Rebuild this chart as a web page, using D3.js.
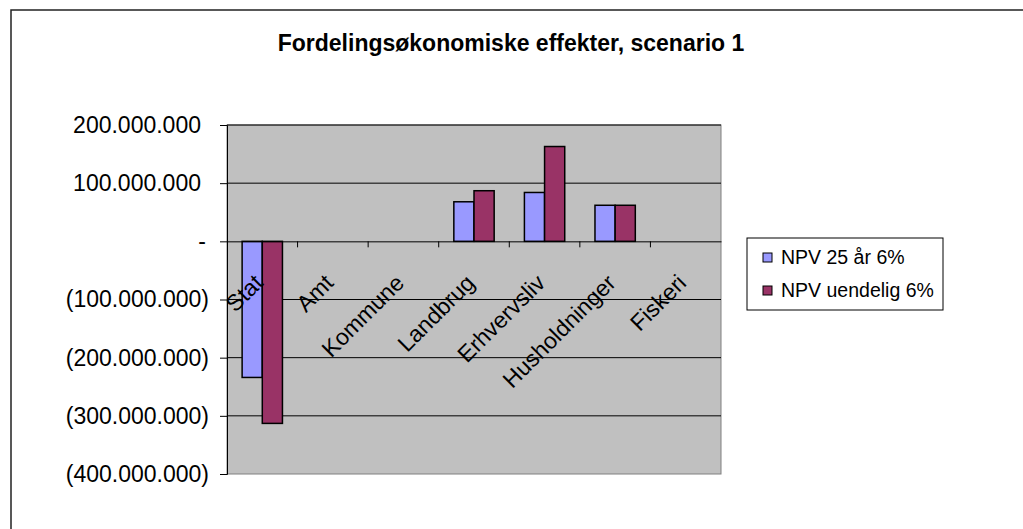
<!DOCTYPE html>
<html>
<head>
<meta charset="utf-8">
<script src="https://cdn.jsdelivr.net/npm/d3@7"></script>
<style>
  html, body { margin: 0; padding: 0; overflow: hidden; background: #fff; }
  svg { display: block; }
  text { font-family: "Liberation Sans", Arial, sans-serif; fill: #000; }
</style>
</head>
<body>
<div id="chart"></div>
<script>
const categories = ["Stat", "Amt", "Kommune", "Landbrug", "Erhvervsliv", "Husholdninger", "Fiskeri"];
const seriesNames = ["NPV 25 år 6%", "NPV uendelig 6%"];
const npv25 = [-234000000, 0, 0, 68000000, 84000000, 62000000, 0];
const npvInf = [-313000000, 0, 0, 87000000, 163000000, 62000000, 0];
const yTicks = [200000000, 100000000, 0, -100000000, -200000000, -300000000, -400000000];
const colors = ["#9999ff", "#993366"];

const W = 1023, H = 529;
const plot = {left: 227, right: 721, top: 125, bottom: 474};

const svg = d3.select("#chart").append("svg")
  .attr("width", W)
  .attr("height", H);

// outer chart frame: only its top and left edges fall inside the picture
svg.append("path")
  .attr("d", "M11," + H + "V10H" + W)
  .attr("fill", "none")
  .attr("stroke", "#222")
  .attr("stroke-width", 1.5);

svg.append("text")
  .attr("x", 511).attr("y", 51)
  .attr("text-anchor", "middle")
  .style("font-size", "23px")
  .style("font-weight", "bold")
  .text("Fordelingsøkonomiske effekter, scenario 1");

var x = d3.scaleBand()
  .domain(categories)
  .range([plot.left, plot.right]);

var xInner = d3.scaleBand()
  .domain(seriesNames)
  .range([0, x.bandwidth()])
  .paddingInner(0)
  .paddingOuter(0.75);

var y = d3.scaleLinear()
  .domain([-400000000, 200000000])
  .range([plot.bottom, plot.top]);

// plot area
svg.append("rect")
  .attr("x", plot.left).attr("y", plot.top)
  .attr("width", plot.right - plot.left)
  .attr("height", plot.bottom - plot.top)
  .attr("fill", "#c0c0c0")
  .attr("stroke", "#808080");

// gridlines
svg.append("g")
  .selectAll("line")
  .data(yTicks.filter(d => d !== 0 && d !== -400000000))
  .join("line")
  .attr("x1", plot.left).attr("x2", plot.right)
  .attr("y1", d => y(d)).attr("y2", d => y(d))
  .attr("stroke", "#000")
  .attr("stroke-width", 1);

var fmt = function(d) {
  if (d === 0) return "-";
  var s = d3.format(",")(Math.abs(d)).replace(/,/g, ".");
  return d < 0 ? "(" + s + ")" : s;
};

var yAxis = d3.axisLeft(y)
  .tickValues(yTicks)
  .tickFormat(fmt)
  .tickSize(7)
  .tickPadding(11);

var gy = svg.append("g")
  .attr("transform", "translate(" + plot.left + ",0)")
  .call(yAxis);
gy.select(".domain").attr("stroke", "#000");
gy.selectAll(".tick line").attr("stroke", "#000");
gy.selectAll(".tick text")
  .style("font-size", "23px")
  .attr("dx", d => d > 0 ? -8 : (d === 0 ? -3 : 0));

// bars
var groups = svg.append("g")
  .selectAll("g")
  .data(categories.map((c, i) => ({cat: c, vals: [npv25[i], npvInf[i]]})))
  .join("g")
  .attr("transform", d => "translate(" + x(d.cat) + ",0)");

groups.selectAll("rect")
  .data(d => d.vals.map((v, j) => ({name: seriesNames[j], value: v, j: j})))
  .join("rect")
  .filter(d => d.value !== 0)
  .attr("x", d => xInner(d.name))
  .attr("width", xInner.bandwidth())
  .attr("y", d => y(Math.max(0, d.value)))
  .attr("height", d => Math.abs(y(d.value) - y(0)))
  .attr("fill", d => colors[d.j])
  .attr("stroke", "#000")
  .attr("stroke-width", 1.5);

// category axis at zero
var xAxis = d3.axisBottom(x)
  .tickSize(0)
  .tickFormat("");
var gx = svg.append("g")
  .attr("transform", "translate(0," + y(0) + ")")
  .call(xAxis);
gx.select(".domain").attr("stroke", "#000");

svg.append("g")
  .selectAll("line")
  .data(categories.slice(1))
  .join("line")
  .attr("x1", d => x(d)).attr("x2", d => x(d))
  .attr("y1", y(0)).attr("y2", y(0) + 6)
  .attr("stroke", "#000");

svg.append("g")
  .selectAll("text")
  .data(categories)
  .join("text")
  .attr("text-anchor", "end")
  .attr("transform", d => "translate(" + (x(d) + x.bandwidth() / 2 + 2) + "," + (y(0) + 43) + ") rotate(-45)")
  .style("font-size", "23px")
  .text(d => d);

// legend
var legend = svg.append("g").attr("transform", "translate(747,238)");
legend.append("rect")
  .attr("width", 196).attr("height", 72)
  .attr("fill", "#fff")
  .attr("stroke", "#000");

var items = legend.selectAll("g.item")
  .data(seriesNames)
  .join("g")
  .attr("class", "item")
  .attr("transform", (d, i) => "translate(16," + (19 + i * 33) + ")");
items.append("rect")
  .attr("x", 0).attr("y", -4)
  .attr("width", 9).attr("height", 9)
  .attr("fill", (d, i) => colors[i])
  .attr("stroke", "#000");
items.append("text")
  .attr("x", 18).attr("y", 7)
  .style("font-size", "19.5px")
  .text(d => d);
</script>
</body>
</html>
